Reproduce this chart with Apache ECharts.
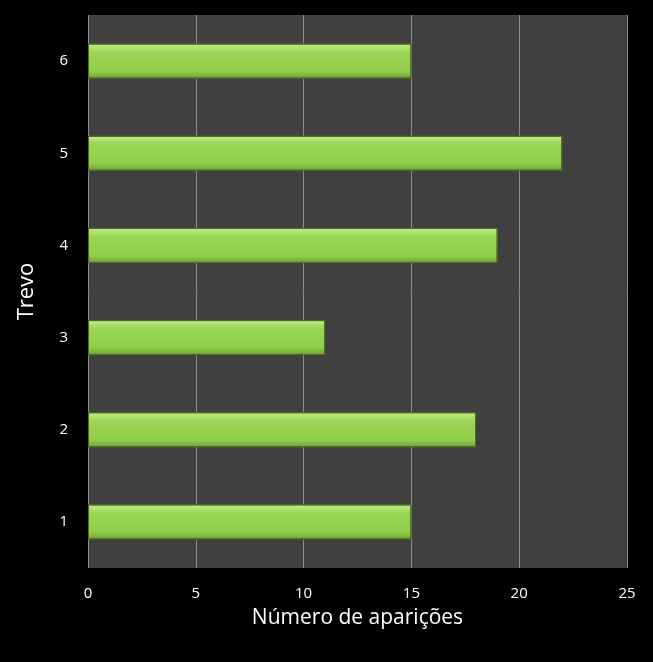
<!DOCTYPE html>
<html><head><meta charset="utf-8">
<script src="https://cdn.jsdelivr.net/npm/echarts@6/dist/echarts.min.js"></script>
<style>html,body{margin:0;background:#000}#c{width:653px;height:662px}</style>
</head><body><div id="c"></div>
<script>
const categories = ['1','2','3','4','5','6'];
const values = [15, 18, 11, 19, 22, 15];
const chart = echarts.init(document.getElementById('c'));
chart.setOption({
  backgroundColor: '#000',
  grid: {left: 88, right: 26, top: 15, bottom: 94, show: true, backgroundColor: '#404040', borderWidth: 0},
  xAxis: {
    type: 'value', min: 0, max: 25, interval: 5,
    name: 'Número de aparições', nameLocation: 'middle', nameGap: 40,
    nameTextStyle: {color: '#fff', fontSize: 21, fontFamily: 'Open Sans'},
    axisLabel: {color: '#fff', fontSize: 15, fontFamily: 'Open Sans', margin: 18},
    axisLine: {show: false}, axisTick: {show: false},
    splitLine: {lineStyle: {color: '#8a8a8a', width: 1}}
  },
  yAxis: {
    type: 'category', data: categories,
    name: 'Trevo', nameLocation: 'middle', nameGap: 50,
    nameTextStyle: {color: '#fff', fontSize: 22, fontFamily: 'Open Sans'},
    axisLabel: {color: '#fff', fontSize: 15, fontFamily: 'Open Sans', margin: 20},
    axisLine: {show: false}, axisTick: {show: false}
  },
  series: [{
    type: 'bar', data: values, barWidth: 35,
    itemStyle: {
      borderColor: '#4d6b22', borderWidth: 1,
      color: new echarts.graphic.LinearGradient(0, 0, 0, 1, [
        {offset: 0, color: '#c4ec8c'},
        {offset: 0.25, color: '#9ad656'},
        {offset: 0.8, color: '#8fcd4a'},
        {offset: 1, color: '#6f9f38'}
      ])
    }
  }]
});
</script></body></html>
